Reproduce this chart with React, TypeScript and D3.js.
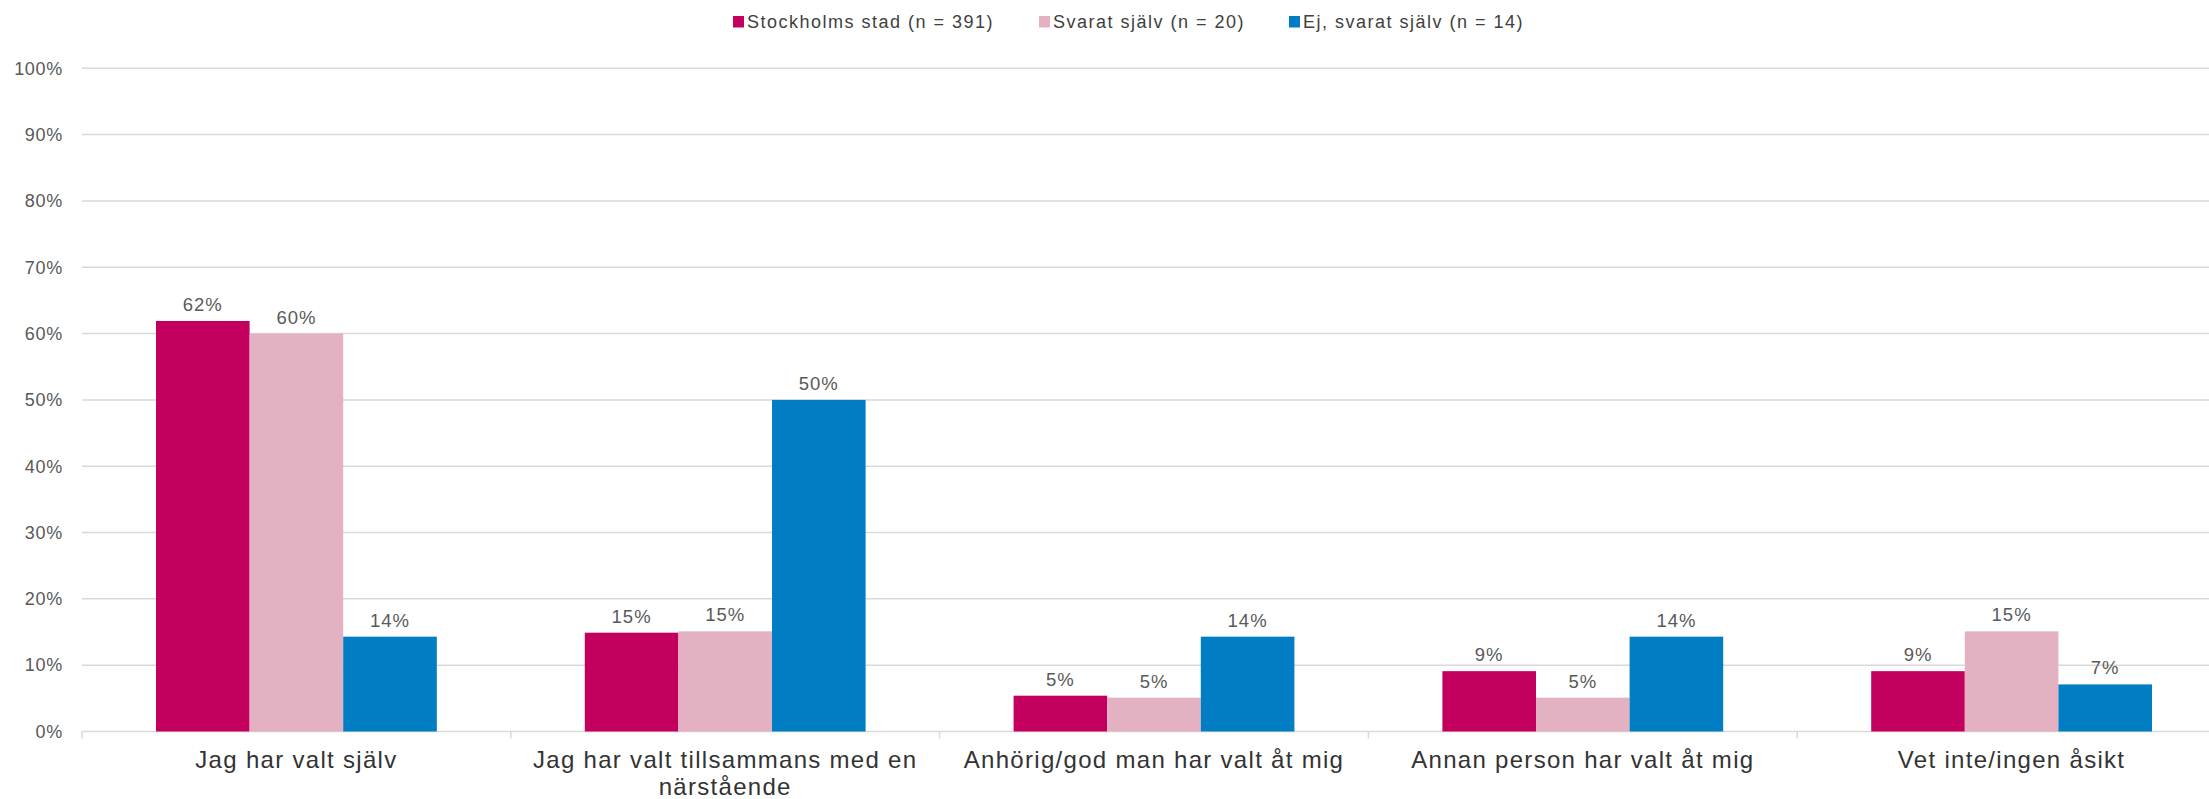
import React from "react";
import * as d3 from "d3";

const categories: string[][] = [
  ["Jag har valt själv"],
  ["Jag har valt tillsammans med en", "närstående"],
  ["Anhörig/god man har valt åt mig"],
  ["Annan person har valt åt mig"],
  ["Vet inte/ingen åsikt"],
];
const seriesNames = [
  "Stockholms stad (n = 391)",
  "Svarat själv (n = 20)",
  "Ej, svarat själv (n = 14)",
];
const stockholm = [61.9, 14.9, 5.4, 9.1, 9.1];
const svaratSjalv = [60, 15.1, 5.1, 5.1, 15.1];
const ejSvarat = [14.3, 50, 14.3, 14.3, 7.1];
const yTicks = [0, 10, 20, 30, 40, 50, 60, 70, 80, 90, 100];
const colors = ["#C4005E", "#E3B1C2", "#007DC3"];

const W = 2209;
const H = 799;
const FONT = "'Liberation Sans', Arial, sans-serif";

export default function App() {
  const series = [stockholm, svaratSjalv, ejSvarat];
  const left = 82;
  const catW = 428.8;
  const right = left + catW * categories.length;
  const x0 = d3
    .scaleBand<number>()
    .domain(d3.range(categories.length))
    .range([left, right])
    .padding(0);
  const groupPad = 74;
  const x1 = d3
    .scaleBand<number>()
    .domain(d3.range(series.length))
    .range([groupPad, x0.bandwidth() - groupPad])
    .padding(0);
  const y = d3.scaleLinear().domain([0, 100]).range([731.5, 68.3]);

  const legendX = [733, 1039, 1289];

  return (
    <svg
      width={W}
      height={H}
      style={{ position: "absolute", left: 0, top: 0, background: "#fff" }}
      fontFamily={FONT}
    >
      {/* legend */}
      {seriesNames.map((n, i) => (
        <g key={n}>
          <rect x={legendX[i]} y={16} width={11} height={11.5} fill={colors[i]} />
          <text
            x={legendX[i] + 14}
            y={27.5}
            fontSize={18}
            letterSpacing={1.5}
            fill="#404040"
          >
            {n}
          </text>
        </g>
      ))}

      {/* gridlines + y labels */}
      {yTicks.map((t) => (
        <g key={t}>
          <line
            x1={left}
            x2={right}
            y1={y(t)}
            y2={y(t)}
            stroke="#D9D9D9"
            strokeWidth={1.5}
          />
          <text
            x={63}
            y={y(t)}
            dy="0.35em"
            textAnchor="end"
            fontSize={18}
            letterSpacing={0.7}
            fill="#595959"
          >
            {t}%
          </text>
        </g>
      ))}

      {/* category ticks */}
      {d3.range(categories.length + 1).map((i) => {
        const xx = left + i * x0.bandwidth();
        return (
          <line
            key={i}
            x1={xx}
            x2={xx}
            y1={y(0)}
            y2={y(0) + 7}
            stroke="#D9D9D9"
            strokeWidth={1.5}
          />
        );
      })}

      {/* bars */}
      {categories.map((c, ci) =>
        series.map((s, si) => {
          const bx = (x0(ci) as number) + (x1(si) as number);
          const by = y(s[ci]);
          return (
            <g key={`${ci}-${si}`}>
              <rect
                x={bx}
                y={by}
                width={x1.bandwidth()}
                height={y(0) - by}
                fill={colors[si]}
              />
              <text
                x={bx + x1.bandwidth() / 2}
                y={by - 10}
                textAnchor="middle"
                fontSize={18.5}
                letterSpacing={1}
                fill="#595959"
              >
                {Math.round(s[ci])}%
              </text>
            </g>
          );
        })
      )}

      {/* x labels */}
      {categories.map((lines, ci) => (
        <text
          key={ci}
          x={(x0(ci) as number) + x0.bandwidth() / 2}
          y={768}
          textAnchor="middle"
          fontSize={24}
          letterSpacing={1.3}
          fill="#333333"
        >
          {lines.map((l, li) => (
            <tspan
              key={li}
              x={(x0(ci) as number) + x0.bandwidth() / 2}
              dy={li === 0 ? 0 : 26.5}
            >
              {l}
            </tspan>
          ))}
        </text>
      ))}
    </svg>
  );
}
